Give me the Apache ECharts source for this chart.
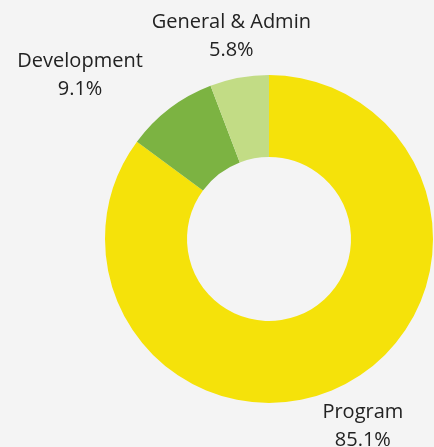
<!DOCTYPE html>
<html><head><meta charset="UTF-8">
<title>ECharts</title>
<script src="https://cdn.jsdelivr.net/npm/echarts@6/dist/echarts.min.js"></script>
<style>
html, body { margin: 0; padding: 0; background: #f4f4f4; }
#g1 { width: 434px; height: 447px; }
</style>
</head>
<body>
<div id="g1"></div>
<script type="text/javascript">
// data
var names = ['Program', 'Development', 'General & Admin'];
var shares = [85.1, 9.1, 5.8];
var colors = ['#f5e20a', '#7cb342', '#c2dc85'];

var pieData = names.map(function (name, i) {
    return { name: name, value: shares[i], itemStyle: { color: colors[i] } };
});

var option = {
    backgroundColor: '#f4f4f4',
    animation: false,
    series: [{
        type: 'pie',
        center: [269, 239],
        radius: [82, 164],
        startAngle: 90,
        clockwise: true,
        avoidLabelOverlap: false,
        data: pieData,
        label: {
            show: true,
            position: 'outside',
            formatter: '{b}\n{c}%',
            fontFamily: 'Open Sans',
            fontSize: 20,
            lineHeight: 28,
            color: '#222',
            distanceToLabelLine: 0
        },
        labelLine: { show: false, length: 44, length2: 0 },
        // development label sits further left in the original
        labelLayout: function (p) {
            return p.dataIndex === 1 ? { align: 'center', dx: -63, dy: 2 } : { align: 'center', dy: 2 };
        }
    }]
};
var myChart = echarts.init(document.getElementById('g1'));
myChart.setOption(option);
</script>
</body></html>
